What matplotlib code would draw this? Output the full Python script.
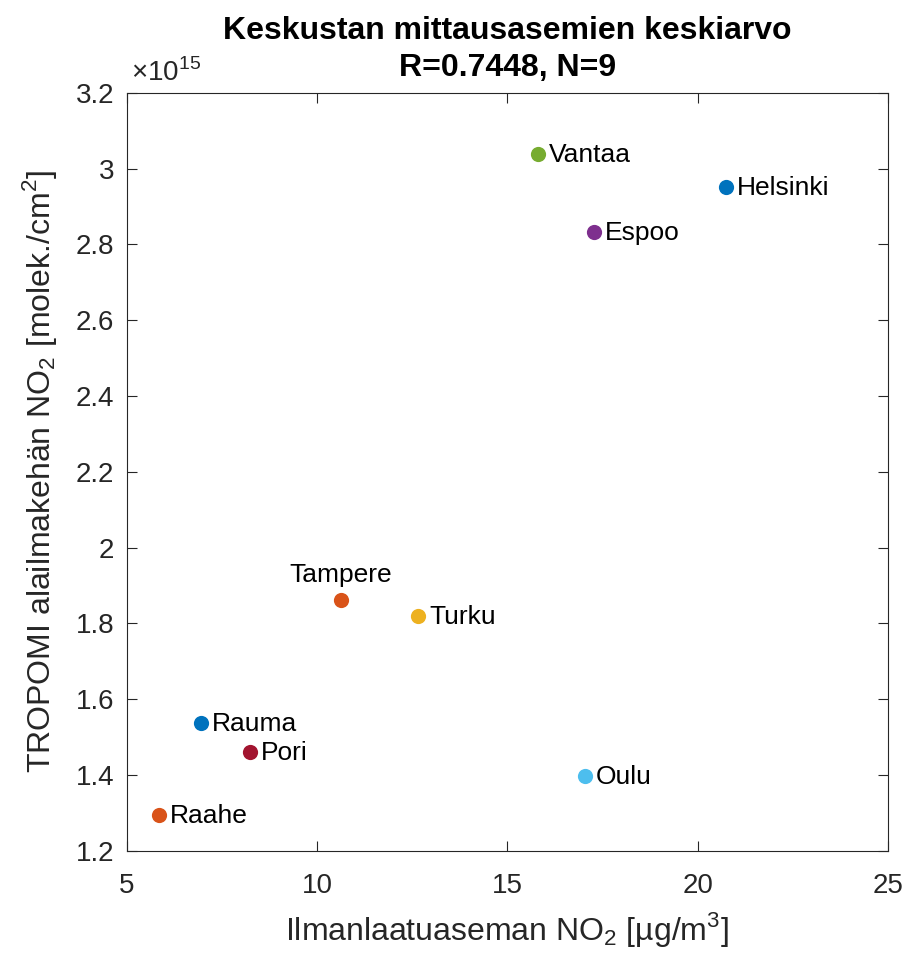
import matplotlib.pyplot as plt
from matplotlib.ticker import FuncFormatter

plt.rcParams['font.family'] = ['Liberation Sans', 'DejaVu Sans']
plt.rcParams['mathtext.fontset'] = 'custom'
plt.rcParams['mathtext.rm'] = 'Liberation Sans'

cities = ["Helsinki", "Tampere", "Turku", "Espoo", "Vantaa", "Oulu", "Pori", "Rauma", "Raahe"]
station_no2 = [20.74, 10.62, 12.65, 17.27, 15.80, 17.04, 8.23, 6.94, 5.84]
tropomi_no2 = [2.952e15, 1.862e15, 1.820e15, 2.833e15, 3.039e15, 1.398e15, 1.461e15, 1.538e15, 1.295e15]
colors = ["#0072BD", "#D95319", "#EDB120", "#7E2F8E", "#77AC30", "#4DBEEE", "#A2142F", "#0072BD", "#D95319"]

fig = plt.figure(figsize=(9.06, 9.57), dpi=100)
ax = fig.add_axes([0.140, 0.111, 0.840, 0.792])

for name, x, y, c in zip(cities, station_no2, tropomi_no2, colors):
    ax.scatter(x, y, s=120, color=c, zorder=3, linewidths=0)
    if name == "Tampere":
        ax.annotate(name, (x, y), xytext=(0, 9), textcoords='offset points',
                    ha='center', va='bottom', fontsize=19, color='black')
    else:
        ax.annotate(name, (x, y), xytext=(8, -1), textcoords='offset points',
                    ha='left', va='center', fontsize=19, color='black')

ax.set_xlim(5, 25)
ax.set_ylim(1.2e15, 3.2e15)
ax.set_xticks([5, 10, 15, 20, 25])
ax.set_yticks([1.2e15, 1.4e15, 1.6e15, 1.8e15, 2.0e15, 2.2e15, 2.4e15, 2.6e15, 2.8e15, 3.0e15, 3.2e15])
ax.yaxis.set_major_formatter(FuncFormatter(lambda v, p: '%g' % round(v / 1e15, 3)))
ax.text(0.005, 1.008, r'$\times 10^{15}$', transform=ax.transAxes, fontsize=20,
        color='#262626', ha='left', va='bottom')

ax.tick_params(direction='in', length=7, width=0.8, top=True, right=True,
               labelsize=20, colors='#262626')
ax.tick_params(axis='x', pad=16)
ax.tick_params(axis='y', pad=9)
for s in ax.spines.values():
    s.set_color('#262626')
    s.set_linewidth(0.8)

ax.set_xlabel(r'Ilmanlaatuaseman NO$_2$ [µg/m$^3$]', fontsize=23, color='#262626', labelpad=8)
ax.set_ylabel(r'TROPOMI alailmakehän NO$_2$ [molek./cm$^2$]', fontsize=23, color='#262626', labelpad=12)
ax.set_title('Keskustan mittausasemien keskiarvo\nR=0.7448, N=9', fontsize=23,
             fontweight='bold', color='black', pad=12, linespacing=1.3)

fig.savefig('out.png', dpi=100)
